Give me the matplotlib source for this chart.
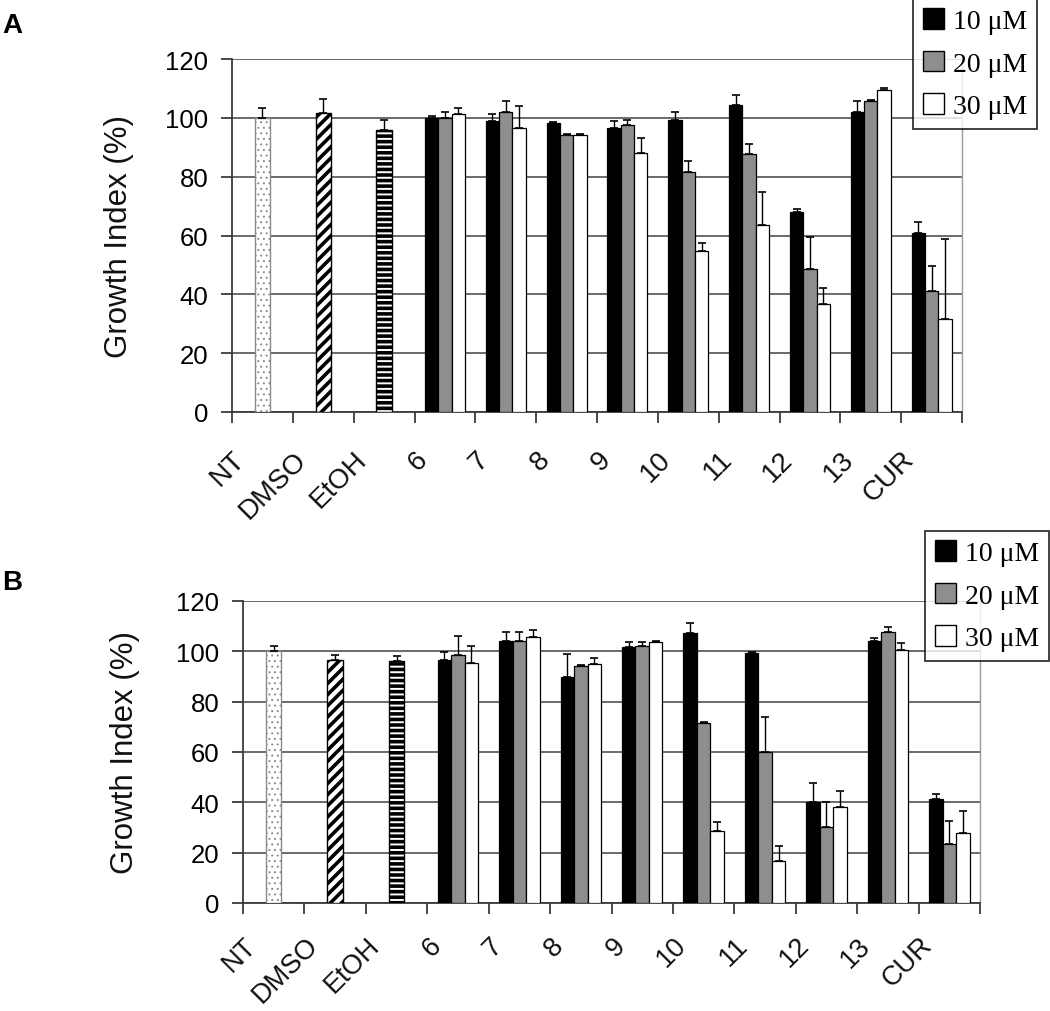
import matplotlib
matplotlib.use("Agg")
import matplotlib.pyplot as plt
import numpy as np
from matplotlib.transforms import ScaledTranslation, blended_transform_factory
from matplotlib.patches import Patch

plt.rcParams['font.family'] = ['Liberation Sans', 'DejaVu Sans']

# ---------------- data ----------------
categories = ["NT", "DMSO", "EtOH", "6", "7", "8", "9", "10", "11", "12", "13", "CUR"]
controls = ["NT", "DMSO", "EtOH"]
compounds = ["6", "7", "8", "9", "10", "11", "12", "13", "CUR"]
series_labels = ["10 \u03bcM", "20 \u03bcM", "30 \u03bcM"]

# Panel A
A_ctrl = [100.0, 101.5, 96.0]
A_ctrl_err = [3.5, 5.0, 3.3]
A_10 = [100.0, 99.0, 98.3, 96.6, 99.4, 104.4, 68.1, 102.1, 60.8]
A_10_err = [0.5, 2.2, 0.3, 2.2, 2.5, 3.2, 1.0, 3.6, 3.7]
A_20 = [100.0, 102.0, 94.3, 97.4, 81.5, 87.8, 48.6, 105.7, 41.1]
A_20_err = [2.0, 3.7, 0.3, 2.0, 3.8, 3.4, 10.8, 0.3, 8.7]
A_30 = [101.4, 96.5, 94.3, 88.0, 54.9, 63.7, 36.7, 109.6, 31.6]
A_30_err = [2.0, 7.5, 0.3, 5.2, 2.6, 11.0, 5.4, 0.5, 27.2]

# Panel B
B_ctrl = [100.2, 96.7, 96.0]
B_ctrl_err = [2.0, 2.0, 2.0]
B_10 = [96.7, 104.0, 89.9, 101.6, 107.1, 99.3, 40.0, 104.2, 41.3]
B_10_err = [3.2, 3.8, 9.0, 2.0, 4.0, 0.3, 7.7, 1.0, 2.0]
B_20 = [98.5, 104.2, 94.0, 102.2, 71.5, 60.1, 30.1, 107.5, 23.4]
B_20_err = [7.7, 3.6, 0.4, 1.4, 0.5, 13.7, 9.9, 2.0, 9.0]
B_30 = [95.4, 105.8, 95.0, 103.8, 28.7, 16.8, 38.0, 100.5, 27.7]
B_30_err = [6.8, 2.8, 2.2, 0.3, 3.6, 6.0, 6.6, 2.7, 9.0]

yticks = [0, 20, 40, 60, 80, 100, 120]

# ---------------- styling ----------------
W, H = 1050, 1012
fig = plt.figure(figsize=(W / 100, H / 100), dpi=100)
fig.patch.set_facecolor('white')

AX_COL = '#3a3a3a'
GRID_COL = '#6a6a6a'
series_colors = ['#000000', '#8e8e8e', '#ffffff']
ctrl_hatch = ['...', '///', '---']
ctrl_edge = ['#8a8a8a', '#000000', '#000000']

TICK_FS = 18.5
XT_FS = 20
YL_FS = 22.5
LEG_FS = 20


def draw_panel(ax, ctrl, ctrl_err, s10, s10e, s20, s20e, s30, s30e, hatch_lw, xt_fs, label_dy):
    n = len(categories)
    centers = np.arange(n) + 0.5
    # grid
    ax.set_axisbelow(True)
    ax.yaxis.grid(True, color=GRID_COL, linewidth=1.4)
    ax.set_xlim(0, n)
    ax.set_ylim(0, 120)
    # controls
    cw = 0.25
    for i, (v, e) in enumerate(zip(ctrl, ctrl_err)):
        b = ax.bar(centers[i], v, width=cw, facecolor='white', edgecolor=ctrl_edge[i],
                   linewidth=1.0, hatch=ctrl_hatch[i], zorder=3)
        for p in b:
            if hasattr(p, 'set_hatch_linewidth'):
                p.set_hatch_linewidth(hatch_lw[i])
        ax.errorbar(centers[i], v, yerr=[[0], [e]], fmt='none', ecolor='black',
                    elinewidth=1.0, capsize=3, capthick=1.2, zorder=4)
    # compounds
    bw = 0.22
    cc = centers[len(ctrl):]
    for k, (vals, errs) in enumerate([(s10, s10e), (s20, s20e), (s30, s30e)]):
        x = cc + (k - 1) * bw
        ax.bar(x, vals, width=bw, facecolor=series_colors[k], edgecolor='black',
               linewidth=0.9, zorder=3, label=series_labels[k])
        ax.errorbar(x, vals, yerr=[np.zeros(len(vals)), errs], fmt='none', ecolor='black',
                    elinewidth=1.0, capsize=3, capthick=1.2, zorder=4)
    # spines
    ax.spines['top'].set_visible(False)
    ax.spines['right'].set_color('#9a9a9a')
    ax.spines['right'].set_linewidth(1.0)
    for s in ['left', 'bottom']:
        ax.spines[s].set_color(AX_COL)
        ax.spines[s].set_linewidth(1.3)
    ax.set_yticks(yticks)
    ax.set_yticklabels([str(t) for t in yticks], fontsize=TICK_FS)
    ax.tick_params(axis='y', direction='out', length=8, width=1.3, color=AX_COL, pad=9)
    ax.set_xticks(np.arange(n + 1))
    ax.set_xticklabels([])
    ax.tick_params(axis='x', direction='out', length=8, width=1.3, color=AX_COL)
    # rotated category labels
    tr = blended_transform_factory(ax.transData, ax.transAxes)
    off = ScaledTranslation(-21 / 100, -label_dy / 100, fig.dpi_scale_trans)
    for c, lab in zip(centers, categories):
        ax.text(c, 0, lab, transform=tr + off, rotation=45, rotation_mode='anchor',
                ha='right', va='center', fontsize=xt_fs, color='#111111')
    ax.set_ylabel('Growth Index (%)', fontsize=YL_FS, color='#111111')


# Panel A
axA = fig.add_axes([232 / W, 1 - 413 / H, 730 / W, 353 / H])
draw_panel(axA, A_ctrl, A_ctrl_err, A_10, A_10_err, A_20, A_20_err, A_30, A_30_err,
           hatch_lw=[0.7, 2.6, 2.6], xt_fs=XT_FS, label_dy=43)
axA.yaxis.set_label_coords((134 - 232) / 730, 0.5)

# Panel B
axB = fig.add_axes([243 / W, 1 - 904 / H, 737 / W, 302 / H])
draw_panel(axB, B_ctrl, B_ctrl_err, B_10, B_10_err, B_20, B_20_err, B_30, B_30_err,
           hatch_lw=[0.7, 2.6, 2.6], xt_fs=19.5, label_dy=38)
axB.yaxis.set_label_coords((140 - 243) / 737, 0.5)

# legends
handles = [Patch(facecolor=series_colors[k], edgecolor='black', linewidth=1.0) for k in range(3)]
leg_kw = dict(prop={'family': 'Liberation Serif', 'size': LEG_FS}, frameon=True, fancybox=False,
              edgecolor='black', handlelength=0.75, handleheight=0.75, handletextpad=0.35,
              labelspacing=0.6, borderpad=0.35, borderaxespad=0.0)
legA = fig.legend(handles, series_labels, loc='lower left',
                  bbox_to_anchor=(913 / W, 1 - 130 / H), **leg_kw)
legB = fig.legend(handles, series_labels, loc='lower left',
                  bbox_to_anchor=(925 / W, 1 - 662 / H), **leg_kw)
for lg in (legA, legB):
    lg.get_frame().set_linewidth(1.3)
    lg.set_zorder(10)

# panel letters
fig.text(2 / W, 1 - 33 / H, 'A', fontsize=20, fontweight='bold', va='baseline', ha='left')
fig.text(2 / W, 1 - 590 / H, 'B', fontsize=20, fontweight='bold', va='baseline', ha='left')

fig.savefig('out.png', dpi=100, facecolor='white')
